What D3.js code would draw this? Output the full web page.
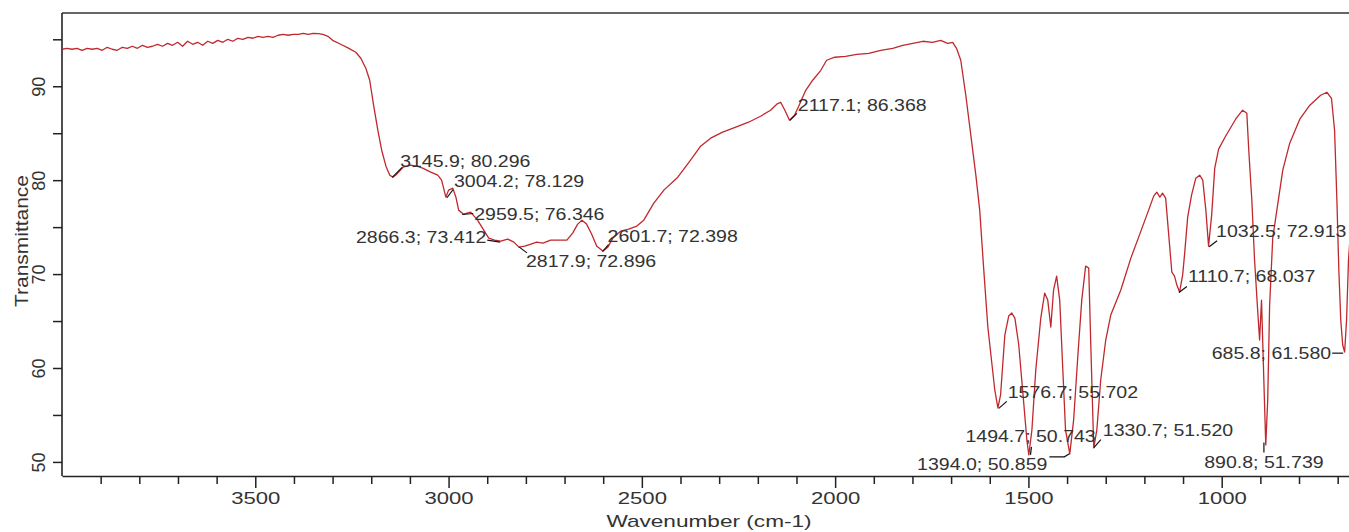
<!DOCTYPE html>
<html>
<head>
<meta charset="utf-8">
<script src="https://cdn.jsdelivr.net/npm/d3@7"></script>
<style>
  body { margin: 0; background: #fff; }
  svg { display: block; }
  text { font-family: "Liberation Sans", Arial, sans-serif; fill: #333; }
</style>
</head>
<body>
<svg id="chart" width="1349" height="532"></svg>
<script>
try {

/*========================================
	Data
========================================*/
var wavenumber = [
 4000,3987,3974,3961,3948,3935,3922,3909,3896,3883,3870,3857,3844,3831,3818,3805,3792,3779,3766,3753,
 3740,3727,3714,3701,3688,3675,3662,3649,3636,3623,3610,3597,3584,3571,3558,3545,3532,3519,3506,3493,
 3480,3467,3454,3441,3428,3415,3402,3389,3376,3363,3350,3337,
 3325,3312,3300,3279,3258,3240,3227,3214,3204,3194,3183,3173,3162,3152,3144,3134,3118,3098,3082,3067,
 3046,3028,3018,3007,3000,2989,2981,2974,2961,2943,2925,2909,2896,2881,2865,2847,2831,2818,2803,2787,
 2772,2756,2736,2715,2694,2679,2666,2655,2643,2630,2617,2601,2588,2575,2555,2534,2513,2495,2469,2443,
 2407,2374,2348,2322,2291,2257,2224,2193,2167,2151,2141,2130,2118,2105,2092,2076,2058,2037,2022,2001,
 1973,1944,1913,1882,1851,1825,1799,1773,1748,1727,1709,1696,1686,1675,1662,1649,1636,1626,1616,1605,
 1595,1587,1579,1572,1561,1551,1543,1535,1525,1515,1504,1499,1491,1481,1468,1458,1450,1442,1435,1427,
 1419,1411,1404,1393,1383,1372,1362,1352,1344,1339,1331,1323,1313,1300,1287,1261,1235,1210,1189,1176,
 1168,1160,1153,1145,1137,1129,1122,1116,1109,1101,1096,1088,1078,1067,1057,1049,1041,1034,1026,1018,
 1008,990,964,946,935,930,922,915,907,902,897,891,886,881,876,868,855,842,824,798,
 772,744,728,716,708,702,697,692,687,682,677,672,661
];

var transmittance = [
 93.94,94.04,93.94,94.04,93.83,94.04,93.94,94.04,93.83,94.15,93.94,93.83,94.15,94.04,94.26,94.04,94.36,94.15,94.26,94.47,
 94.26,94.57,94.36,94.68,94.26,94.79,94.47,94.68,94.36,94.79,94.57,94.89,94.68,95.00,94.79,95.11,95.00,95.21,95.11,95.32,
 95.21,95.32,95.21,95.43,95.53,95.43,95.53,95.53,95.64,95.53,95.64,95.60,
 95.53,95.32,94.89,94.47,94.04,93.62,92.98,91.91,90.64,87.98,85.32,83.19,81.49,80.53,80.32,80.64,81.38,81.60,81.49,81.28,
 80.85,80.53,80.00,78.19,78.94,79.15,78.19,76.81,76.38,76.60,75.74,74.68,73.83,73.62,73.51,73.72,73.40,72.87,72.98,73.19,
 73.40,73.30,73.62,73.62,73.62,74.36,75.32,75.74,75.32,74.26,72.98,72.45,72.87,73.83,74.57,74.79,75.11,75.74,77.55,78.94,
 80.32,82.13,83.62,84.47,85.11,85.64,86.17,86.81,87.45,88.09,88.30,87.45,86.38,86.91,88.09,89.57,90.64,91.70,92.77,93.09,
 93.19,93.40,93.51,93.83,94.04,94.36,94.57,94.79,94.68,94.89,94.57,94.68,94.04,92.77,89.04,84.79,80.53,76.81,70.74,64.36,
 60.64,57.66,55.74,57.13,63.51,65.53,65.85,65.32,62.45,57.66,52.34,50.74,53.40,59.79,65.32,67.98,67.23,64.36,68.30,69.79,
 67.23,59.79,53.40,50.85,54.47,61.38,67.23,70.85,70.64,62.98,51.49,53.40,58.72,62.98,65.64,68.30,71.70,74.47,76.81,78.30,
 78.72,78.19,78.62,78.09,74.15,70.21,69.79,68.83,68.09,69.91,72.13,76.06,78.40,80.21,80.53,80.00,76.81,72.98,76.28,81.28,
 83.30,84.68,86.49,87.45,87.13,83.19,77.87,71.49,66.17,62.98,67.23,58.72,51.81,56.60,66.70,73.83,77.45,81.06,83.94,86.49,
 87.98,89.04,89.36,88.72,85.32,77.87,70.43,65.11,62.45,61.70,65.11,71.49,77.87
];

// picked peaks
var peakWn   = [3145.9, 3004.2, 2959.5, 2866.3, 2817.9, 2601.7, 2117.1, 1576.7, 1494.7, 1394.0, 1330.7, 1110.7, 1032.5, 890.8, 685.8];
var peakT    = [80.296, 78.129, 76.346, 73.412, 72.896, 72.398, 86.368, 55.702, 50.743, 50.859, 51.520, 68.037, 72.913, 51.739, 61.580];
var peakText = ["3145.9; 80.296","3004.2; 78.129","2959.5; 76.346","2866.3; 73.412","2817.9; 72.896","2601.7; 72.398",
                "2117.1; 86.368","1576.7; 55.702","1494.7; 50.743","1394.0; 50.859","1330.7; 51.520","1110.7; 68.037",
                "1032.5; 72.913","890.8; 51.739","685.8; 61.580"];

var xTicks = [700,800,900,1000,1100,1200,1300,1400,1500,1600,1700,1800,1900,2000,2100,2200,2300,2400,2500,
              2600,2700,2800,2900,3000,3100,3200,3300,3400,3500,3600,3700,3800,3900];
var yTicks = [50,55,60,65,70,75,80,85,90,95];

/*========================================
	Layout
========================================*/
var svg = d3.select("#chart");
var plot = { left: 62, top: 13, bottom: 476, right: 1357 };
var stretch = 1.25; // the original picture is a bit wide

var x = d3.scaleLinear().domain([4000, 650]).range([plot.left, plot.right]);
var y = d3.scaleLinear().domain([48.5, 97.8]).range([plot.bottom, plot.top]);

svg.append("rect").attr("width", 1349).attr("height", 532).attr("fill", "#fff");

svg.append("clipPath").attr("id", "clip")
  .append("rect")
  .attr("x", plot.left).attr("y", plot.top)
  .attr("width", plot.right - plot.left).attr("height", plot.bottom - plot.top);

var widen = function(sel, k){
	sel.each(function(){
		var len = this.getComputedTextLength();
		d3.select(this).attr("textLength", len * k).attr("lengthAdjust", "spacingAndGlyphs");
	});
};

// top frame line
svg.append("line")
  .attr("x1", plot.left).attr("x2", plot.right)
  .attr("y1", plot.top).attr("y2", plot.top)
  .attr("stroke", "#333").attr("stroke-width", 1.5);

/*========================================
	Axes
========================================*/
var xAxis = d3.axisBottom(x)
  .tickValues(xTicks)
  .tickFormat(function(d){ return d % 500 === 0 ? d : ""; })
  .tickSizeOuter(0);

var gx = svg.append("g")
  .attr("transform", "translate(0," + plot.bottom + ")")
  .call(xAxis);
gx.select(".domain").attr("stroke", "#222").attr("stroke-width", 1.6);
gx.selectAll(".tick line")
  .attr("stroke", "#222").attr("stroke-width", 1.5)
  .attr("y2", function(d){ return d % 500 === 0 ? 12 : 8; });
gx.selectAll(".tick text")
  .attr("y", 16).attr("fill", "#333")
  .style("font-size", "17px");
widen(gx.selectAll(".tick text"), 1.3);

var yAxis = d3.axisLeft(y)
  .tickValues(yTicks)
  .tickFormat(function(d){ return d % 10 === 0 ? d : ""; })
  .tickSize(9)
  .tickSizeOuter(0);

var gy = svg.append("g")
  .attr("transform", "translate(" + plot.left + ",0)")
  .call(yAxis);
gy.select(".domain").attr("stroke", "#222").attr("stroke-width", 1.6)
  .attr("d", "M0," + plot.top + "V" + plot.bottom);
gy.selectAll(".tick line").attr("stroke", "#222").attr("stroke-width", 1.5);
gy.selectAll(".tick text")
  .attr("x", null).attr("dy", null)
  .attr("text-anchor", "middle")
  .attr("transform", "translate(-17,0) rotate(-90)")
  .attr("fill", "#333")
  .style("font-size", "18px");

svg.append("text")
  .attr("transform", "translate(709,527)")
  .attr("text-anchor", "middle")
  .style("font-size", "17px")
  .text("Wavenumber (cm-1)")
  .call(widen, 1.33);

svg.append("text")
  .attr("transform", "translate(28,241) rotate(-90)")
  .attr("text-anchor", "middle")
  .style("font-size", "19px")
  .text("Transmittance")
  .attr("textLength", 132).attr("lengthAdjust", "spacingAndGlyphs");

/*========================================
	Spectrum
========================================*/
var spectrum = wavenumber.map(function(w, i){ return { w: w, t: transmittance[i] }; });

var line = d3.line()
  .x(function(d){ return x(d.w); })
  .y(function(d){ return y(d.t); });

svg.append("path")
  .datum(spectrum)
  .attr("clip-path", "url(#clip)")
  .attr("d", line)
  .attr("fill", "none")
  .attr("stroke", "#c0282d")
  .attr("stroke-width", 1.3)
  .attr("stroke-linejoin", "round");

/*========================================
	Peak labels
========================================*/
// text offset from the peak (dx, dy, anchor) and the little leader line
var labelPos = [
	{dx: 8,   dy: -16, a: "start",  lead: [[0,0],[10,-10]]},
	{dx: 7,   dy: -16, a: "start",  lead: [[0,0],[6,-8]]},
	{dx: 10,  dy: 0,   a: "start",  lead: [[-2,0],[9,-1]]},
	{dx: -14, dy: -5,  a: "end",    lead: [[-13,-2],[0,0]]},
	{dx: 7,   dy: 15,  a: "start",  lead: [[0,0],[8,6]]},
	{dx: 5,   dy: -15, a: "start",  lead: [[0,0],[6,-7]]},
	{dx: 8,   dy: -15, a: "start",  lead: [[0,0],[7,-7]]},
	{dx: 9,   dy: -16, a: "start",  lead: [[0,0],[8,-7]]},
	{dx: -65, dy: -19, a: "start",  lead: [[0,0],[1,-8]]},
	{dx: -22, dy: 11,  a: "end",    lead: [[0,0],[-5,3],[-20,3]]},
	{dx: 9,   dy: -17, a: "start",  lead: [[0,0],[7,-8]]},
	{dx: 9,   dy: -16, a: "start",  lead: [[0,0],[8,-6]]},
	{dx: 7,   dy: -15, a: "start",  lead: [[0,0],[8,-6]]},
	{dx: 0,   dy: 17,  a: "middle", lead: [[0,-3],[0,7]]},
	{dx: -12, dy: 0,   a: "end",    lead: [[0,0],[-11,0]]}
];

var labels = svg.append("g");
peakWn.forEach(function(w, i){
	var px = x(w), py = y(peakT[i]), p = labelPos[i];
	labels.append("path")
	  .attr("d", d3.line()(p.lead.map(function(o){ return [px + o[0], py + o[1]]; })))
	  .attr("fill", "none")
	  .attr("stroke", "#111")
	  .attr("stroke-width", 1.2);
	labels.append("text")
	  .attr("x", px + p.dx)
	  .attr("y", py + p.dy)
	  .attr("dy", "0.35em")
	  .attr("text-anchor", p.a)
	  .style("font-size", "16px")
	  .text(peakText[i])
	  .call(widen, 1.22);
});

} catch (e) {
	console.log(e);
}
</script>
</body>
</html>
